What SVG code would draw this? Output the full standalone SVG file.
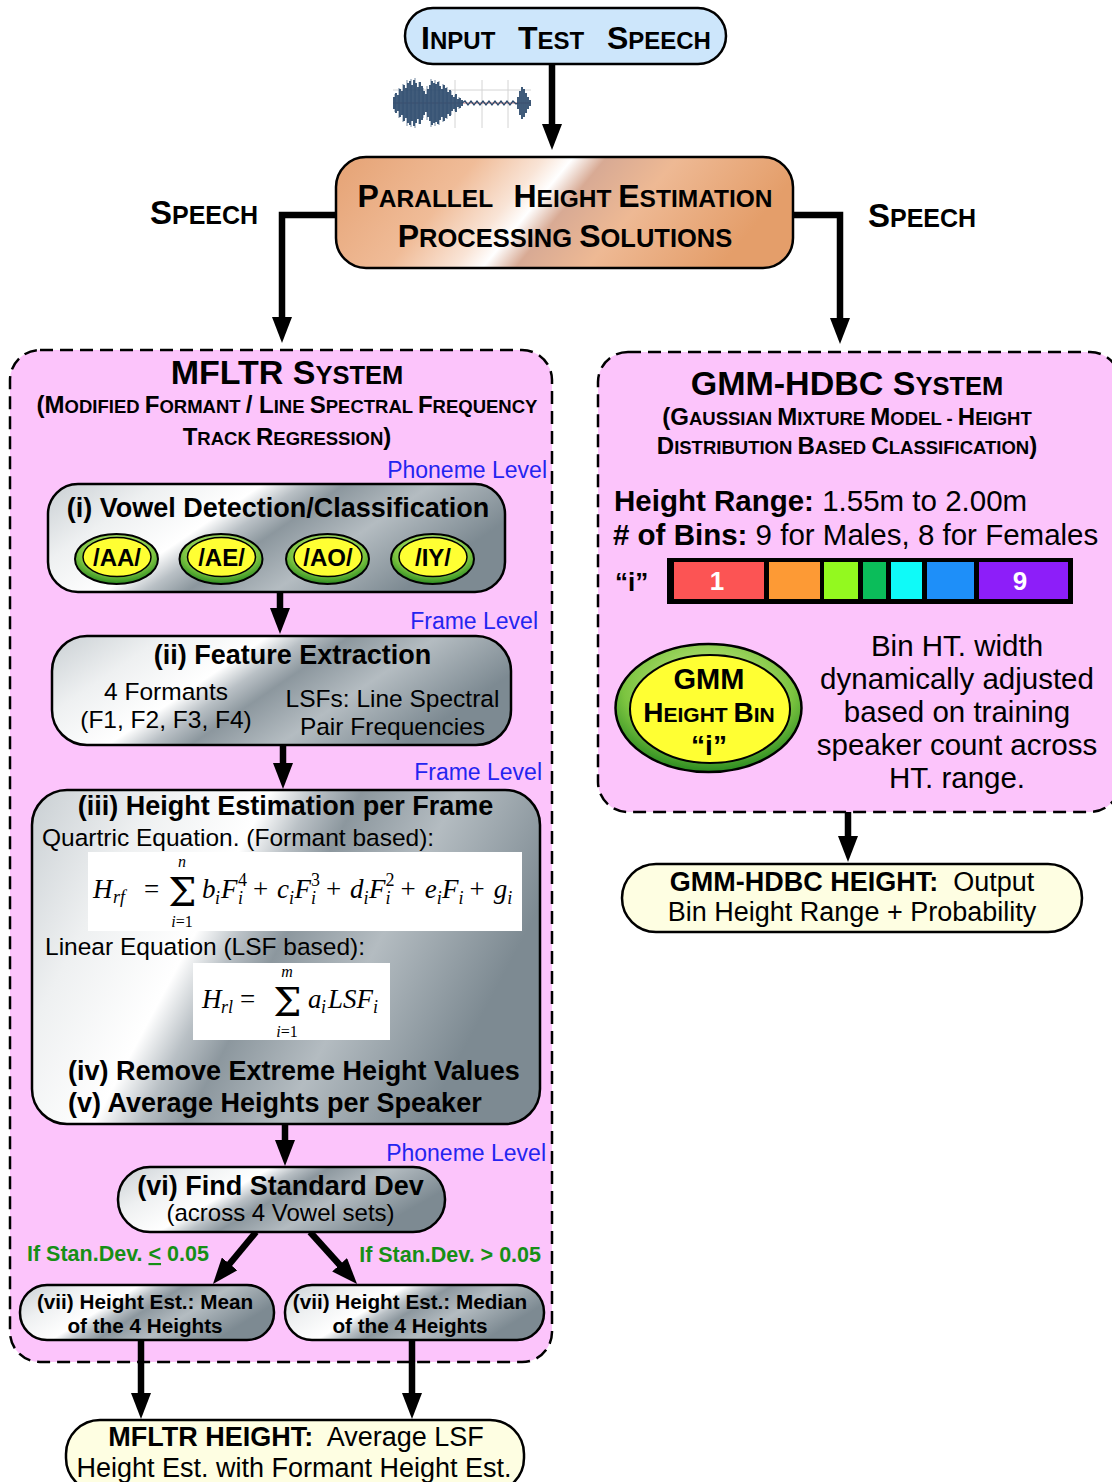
<svg xmlns="http://www.w3.org/2000/svg" width="1112" height="1482" viewBox="0 0 1112 1482">
<style>
.b{font-family:"Liberation Sans",Arial,sans-serif;font-weight:bold;fill:#000}
.r{font-family:"Liberation Sans",Arial,sans-serif;fill:#000}
.m{font-family:"Liberation Serif","Times New Roman",serif;font-style:italic;fill:#000}
.s{font-family:"Liberation Serif","Times New Roman",serif;fill:#000}
.sig{font-family:"DejaVu Serif","Liberation Serif",serif;fill:#000;text-anchor:middle}
.blue{font-family:"Liberation Sans",Arial,sans-serif;fill:#2424f0;font-size:23px}
.green{font-family:"Liberation Sans",Arial,sans-serif;font-weight:bold;fill:#168f16;font-size:21.5px}
.mid{text-anchor:middle}
.end{text-anchor:end}
.cont{fill:#fcc4fb;stroke:#000;stroke-width:2.5;stroke-dasharray:13 7}
.pill{fill:url(#metal);stroke:#000;stroke-width:2.5}
.cream{fill:#fefee2;stroke:#000;stroke-width:2.5}
.conn{fill:none;stroke:#000;stroke-width:6.5;marker-end:url(#ah)}
.vo{fill:url(#ring);stroke:#000;stroke-width:2}
.vi{fill:#ffff33;stroke:#000;stroke-width:1.5}
</style>
<defs>
<linearGradient id="metal" x1="0" y1="0" x2="1" y2="0.35">
<stop offset="0" stop-color="#c9cfd3"/>
<stop offset="0.22" stop-color="#eef0f1"/>
<stop offset="0.42" stop-color="#ffffff"/>
<stop offset="0.5" stop-color="#b9c0c5"/>
<stop offset="0.58" stop-color="#8c979e"/>
<stop offset="0.75" stop-color="#b4bcc1"/>
<stop offset="1" stop-color="#7d8a92"/>
</linearGradient>
<linearGradient id="copper" x1="0" y1="0" x2="1" y2="0.2">
<stop offset="0" stop-color="#e5a274"/>
<stop offset="0.3" stop-color="#f0bc98"/>
<stop offset="0.44" stop-color="#f9e4d6"/>
<stop offset="0.5" stop-color="#ffffff"/>
<stop offset="0.57" stop-color="#d8aa94"/>
<stop offset="0.72" stop-color="#eeb994"/>
<stop offset="1" stop-color="#e49e6a"/>
</linearGradient>
<radialGradient id="ring" cx="0.5" cy="0.35" r="0.65">
<stop offset="0" stop-color="#d0f090"/>
<stop offset="0.7" stop-color="#7cc440"/>
<stop offset="1" stop-color="#2a8a20"/>
</radialGradient>
<marker id="ah" markerUnits="userSpaceOnUse" viewBox="0 0 26 20" markerWidth="26" markerHeight="20" refX="4" refY="10" orient="auto">
<path d="M0,0 L26,10 L0,20 z" fill="#000"/>
</marker>
</defs>
<rect width="1112" height="1482" fill="#fff"/>

<!-- containers -->
<g id="mfltr-system">
<rect class="cont" x="10" y="350" width="542" height="1012" rx="30"/>
<text class="b mid" x="287" y="384" font-size="25.5"><tspan font-size="34">MFLTR S</tspan>YSTEM</text>
<text class="b mid" x="287" y="413" font-size="18.5"><tspan font-size="24">(M</tspan>ODIFIED <tspan font-size="24">F</tspan>ORMANT <tspan font-size="24">/ L</tspan>INE <tspan font-size="24">S</tspan>PECTRAL <tspan font-size="24">F</tspan>REQUENCY</text>
<text class="b mid" x="287" y="445" font-size="18.5"><tspan font-size="24">T</tspan>RACK <tspan font-size="24">R</tspan>EGRESSION<tspan font-size="24">)</tspan></text>
<text class="blue end" x="547" y="478">Phoneme Level</text>
<text class="blue end" x="538" y="629" font-size="24">Frame Level</text>
<text class="blue end" x="542" y="780" font-size="24">Frame Level</text>
<text class="blue end" x="546" y="1161">Phoneme Level</text>
<text class="green" x="27" y="1261">If Stan.Dev. <tspan text-decoration="underline">&lt;</tspan> 0.05</text>
<text class="green end" x="541" y="1262">If Stan.Dev. &gt; 0.05</text>
</g>

<g id="gmm-system">
<rect class="cont" x="598" y="352" width="522" height="460" rx="30"/>
<text class="b mid" x="847" y="395" font-size="25.5"><tspan font-size="34">GMM-HDBC S</tspan>YSTEM</text>
<text class="b mid" x="847" y="425" font-size="18.5"><tspan font-size="24">(G</tspan>AUSSIAN <tspan font-size="24">M</tspan>IXTURE <tspan font-size="24">M</tspan>ODEL - <tspan font-size="24">H</tspan>EIGHT</text>
<text class="b mid" x="847" y="454" font-size="18.5"><tspan font-size="24">D</tspan>ISTRIBUTION <tspan font-size="24">B</tspan>ASED <tspan font-size="24">C</tspan>LASSIFICATION<tspan font-size="24">)</tspan></text>
<text class="r" x="614" y="511" font-size="29.5"><tspan font-weight="bold">Height Range:</tspan> 1.55m to 2.00m</text>
<text class="r" x="613" y="545" font-size="29.5"><tspan font-weight="bold"># of Bins:</tspan> 9 for Males, 8 for Females</text>
<text class="b" x="615" y="591" font-size="26">“i”</text>
<rect x="667" y="558" width="406" height="46" fill="#000"/>
<rect x="674" y="562" width="90" height="37" fill="#fc5454"/>
<rect x="769" y="562" width="51" height="37" fill="#fd9a35"/>
<rect x="824" y="562" width="34" height="37" fill="#93f91f"/>
<rect x="863" y="562" width="23" height="37" fill="#0bbd5a"/>
<rect x="891" y="562" width="31" height="37" fill="#0ffaf8"/>
<rect x="927" y="562" width="47" height="37" fill="#1e8ff9"/>
<rect x="979" y="562" width="89" height="37" fill="#8d1ef9"/>
<text class="b mid" x="717" y="590" font-size="26" style="fill:#fff">1</text>
<text class="b mid" x="1020" y="590" font-size="26" style="fill:#fff">9</text>
<text class="r mid" x="957" y="656" font-size="29.5">Bin HT. width</text>
<text class="r mid" x="957" y="689" font-size="29.5">dynamically adjusted</text>
<text class="r mid" x="957" y="722" font-size="29.5">based on training</text>
<text class="r mid" x="957" y="755" font-size="29.5">speaker count across</text>
<text class="r mid" x="957" y="788" font-size="29.5">HT. range.</text>
</g>

<!-- waveform -->
<g id="waveform">
<path d="M393,90 H531 M455,80 V128 M482,80 V128 M508,80 V128" stroke="#d4d4d4" stroke-width="1" fill="none"/>
<path d="M393,103 H531" stroke="#c07070" stroke-width="1" fill="none"/>
<path fill="none" stroke="#8a9cb0" stroke-width="1.2" d="M395,94 V112 M399,88 V118 M403,84 V122 M407,80 V126 M411,79 V127 M415,78 V128 M419,82 V124 M423,88 V118 M427,86 V120 M431,79 V127 M435,80 V126 M439,81 V125 M443,84 V122 M447,87 V119 M451,91 V115 M455,95 V111 M459,97 V109"/>
<path fill="none" stroke="#2c4a6c" stroke-width="1.8" d="M394,97 V109 M396,93 V113 M398,95 V111 M400,89 V117 M402,91 V115 M404,85 V121 M406,88 V118 M408,83 V123 M410,81 V125 M412,85 V121 M414,80 V126 M416,83 V123 M418,87 V119 M420,82 V124 M422,86 V120 M424,91 V115 M426,94 V112 M428,89 V117 M430,85 V121 M432,81 V125 M434,83 V123 M436,84 V122 M438,82 V124 M440,86 V120 M442,89 V117 M444,85 V121 M446,88 V118 M448,92 V114 M450,90 V116 M452,95 V111 M454,97 V109 M456,94 V112 M458,99 V107 M460,98 V108 M462,100 V106"/>
<path fill="none" stroke="#2c4a6c" stroke-width="1.3" d="M462,103 L465,101 L468,105 L471,101 L474,105 L477,101 L480,105 L483,101 L486,105 L489,101 L492,105 L495,101 L498,105 L501,101 L504,105 L507,101 L510,105 L513,101 L516,104 L518,103"/>
<path fill="none" stroke="#2c4a6c" stroke-width="1.8" d="M518,97 V109 M520,91 V115 M522,87 V119 M524,89 V117 M526,93 V113 M528,97 V109 M530,100 V106"/>
</g>

<!-- connectors -->
<g id="connectors">
<path class="conn" d="M552,64 V128"/>
<path class="conn" d="M336,215 H282 V321" stroke-linejoin="miter"/>
<path class="conn" d="M793,215 H840 V322" stroke-linejoin="miter"/>
<path class="conn" d="M280,592 V612"/>
<path class="conn" d="M283,745 V767"/>
<path class="conn" d="M285,1124 V1144"/>
<path class="conn" d="M256,1232 L227,1267"/>
<path class="conn" d="M310,1232 L342.3,1267.7"/>
<path class="conn" d="M141,1340 V1397"/>
<path class="conn" d="M412,1340 V1397"/>
<path class="conn" d="M848,812 V840"/>
</g>

<text class="b" x="150" y="224" font-size="25"><tspan font-size="33">S</tspan>PEECH</text>
<text class="b" x="868" y="227" font-size="25"><tspan font-size="33">S</tspan>PEECH</text>

<!-- nodes -->
<g id="input-test-speech">
<rect x="405" y="8" width="321" height="56" rx="28" fill="#cde6fb" stroke="#000" stroke-width="2.5"/>
<text class="b mid" x="566" y="49" font-size="24" word-spacing="16"><tspan font-size="32">I</tspan>NPUT <tspan font-size="32">T</tspan>EST <tspan font-size="32">S</tspan>PEECH</text>
</g>

<g id="parallel-height-estimation">
<rect x="336" y="157" width="457" height="111" rx="30" fill="url(#copper)" stroke="#000" stroke-width="2.5"/>
<text class="b mid" x="565" y="207" font-size="24.5"><tspan font-size="32">P</tspan>ARALLEL <tspan font-size="32" dx="14">H</tspan>EIGHT <tspan font-size="32">E</tspan>STIMATION</text>
<text class="b mid" x="565" y="247" font-size="25.5"><tspan font-size="32">P</tspan>ROCESSING <tspan font-size="32">S</tspan>OLUTIONS</text>
</g>

<g id="vowel-detection">
<rect class="pill" x="48" y="484" width="457" height="108" rx="30"/>
<text class="b mid" x="278" y="517" font-size="27">(i) Vowel Detection/Classification</text>
<ellipse class="vo" cx="116.5" cy="559" rx="41.5" ry="25"/>
<ellipse class="vi" cx="117" cy="557" rx="34" ry="19.5"/>
<text class="b mid" x="117" y="566" font-size="24">/AA/</text>
<ellipse class="vo" cx="221" cy="559" rx="41.5" ry="25"/>
<ellipse class="vi" cx="221.5" cy="557" rx="34" ry="19.5"/>
<text class="b mid" x="221.5" y="566" font-size="24">/AE/</text>
<ellipse class="vo" cx="327.5" cy="559" rx="41.5" ry="25"/>
<ellipse class="vi" cx="328" cy="557" rx="34" ry="19.5"/>
<text class="b mid" x="328" y="566" font-size="24">/AO/</text>
<ellipse class="vo" cx="432.5" cy="559" rx="41.5" ry="25"/>
<ellipse class="vi" cx="433" cy="557" rx="34" ry="19.5"/>
<text class="b mid" x="433" y="566" font-size="24">/IY/</text>
</g>

<g id="feature-extraction">
<rect class="pill" x="52" y="636" width="459" height="109" rx="35"/>
<text class="b mid" x="292.5" y="664" font-size="27">(ii) Feature Extraction</text>
<text class="r mid" x="166" y="700" font-size="24.5">4 Formants</text>
<text class="r mid" x="166" y="728" font-size="24.5">(F1, F2, F3, F4)</text>
<text class="r mid" x="392.5" y="707" font-size="24.5">LSFs: Line Spectral</text>
<text class="r mid" x="392.5" y="735" font-size="24.5">Pair Frequencies</text>
</g>

<g id="height-estimation">
<rect class="pill" x="32" y="790" width="508" height="334" rx="35"/>
<text class="b mid" x="285.5" y="815" font-size="27">(iii) Height Estimation per Frame</text>
<text class="r" x="42" y="846" font-size="24.5">Quartric Equation. (Formant based):</text>
<rect x="88" y="852" width="434" height="79" fill="#fff"/>
<text class="m" font-size="27"><tspan x="93" y="898">H</tspan><tspan x="113" y="903" font-size="18">rf</tspan></text>
<text class="s" x="144" y="898" font-size="27">=</text>
<text class="sig" x="182.5" y="906" font-size="40">Σ</text>
<text class="m mid" x="182" y="867" font-size="16">n</text>
<text class="s mid" x="182" y="927" font-size="16"><tspan font-style="italic">i</tspan>=1</text>
<text class="m" font-size="27"><tspan x="202" y="898">b</tspan><tspan x="215" y="904" font-size="18">i</tspan><tspan x="221" y="898">F</tspan><tspan x="238" y="886" font-size="18" font-style="normal">4</tspan><tspan x="238" y="904" font-size="18">i</tspan><tspan x="253" y="898" font-style="normal">+</tspan><tspan x="277" y="898">c</tspan><tspan x="289" y="904" font-size="18">i</tspan><tspan x="294.5" y="898">F</tspan><tspan x="311" y="886" font-size="18" font-style="normal">3</tspan><tspan x="311" y="904" font-size="18">i</tspan><tspan x="326" y="898" font-style="normal">+</tspan><tspan x="350" y="898">d</tspan><tspan x="363.5" y="904" font-size="18">i</tspan><tspan x="369" y="898">F</tspan><tspan x="385.5" y="886" font-size="18" font-style="normal">2</tspan><tspan x="385.5" y="904" font-size="18">i</tspan><tspan x="400.5" y="898" font-style="normal">+</tspan><tspan x="424.7" y="898">e</tspan><tspan x="436.7" y="904" font-size="18">i</tspan><tspan x="442" y="898">F</tspan><tspan x="458.5" y="904" font-size="18">i</tspan><tspan x="469.5" y="898" font-style="normal">+</tspan><tspan x="493.7" y="898">g</tspan><tspan x="507.2" y="904" font-size="18">i</tspan></text>
<text class="r" x="45" y="955" font-size="24.5">Linear Equation (LSF based):</text>
<rect x="193" y="963" width="197" height="77" fill="#fff"/>
<text class="m" font-size="27"><tspan x="202" y="1008">H</tspan><tspan x="221" y="1013" font-size="18">rl</tspan></text>
<text class="s" x="240" y="1008" font-size="27">=</text>
<text class="sig" x="287.5" y="1016" font-size="40">Σ</text>
<text class="m mid" x="287" y="977" font-size="16">m</text>
<text class="s mid" x="287" y="1037" font-size="16"><tspan font-style="italic">i</tspan>=1</text>
<text class="m" font-size="27"><tspan x="308" y="1008">a</tspan><tspan x="321" y="1013" font-size="18">i</tspan><tspan x="328" y="1008">LSF</tspan><tspan x="373" y="1013" font-size="18">i</tspan></text>
<text class="b" x="68" y="1080" font-size="27">(iv) Remove Extreme Height Values</text>
<text class="b" x="68" y="1112" font-size="27">(v) Average Heights per Speaker</text>
</g>

<g id="standard-dev">
<rect class="pill" x="118" y="1167" width="327" height="65" rx="32"/>
<text class="b mid" x="280.5" y="1195" font-size="27">(vi) Find Standard Dev</text>
<text class="r mid" x="280.5" y="1221" font-size="24">(across 4 Vowel sets)</text>
</g>

<g id="height-mean">
<rect class="pill" x="20" y="1285" width="254" height="55" rx="27"/>
<text class="b mid" x="145" y="1309" font-size="20.7">(vii) Height Est.: Mean</text>
<text class="b mid" x="145" y="1333" font-size="20.7">of the 4 Heights</text>
</g>

<g id="height-median">
<rect class="pill" x="285" y="1285" width="259" height="55" rx="27"/>
<text class="b mid" x="410" y="1309" font-size="20.7">(vii) Height Est.: Median</text>
<text class="b mid" x="410" y="1333" font-size="20.7">of the 4 Heights</text>
</g>

<g id="mfltr-height">
<rect class="cream" x="66" y="1420" width="458" height="72" rx="34"/>
<text class="r mid" x="296" y="1446" font-size="27" xml:space="preserve"><tspan font-weight="bold">MFLTR HEIGHT:</tspan>  Average LSF</text>
<text class="r mid" x="294" y="1477" font-size="27">Height Est. with Formant Height Est.</text>
</g>

<g id="gmm-height-bin">
<ellipse cx="708.5" cy="708" rx="93" ry="64" fill="url(#ring)" stroke="#000" stroke-width="2.5"/>
<ellipse cx="710" cy="709" rx="80" ry="54" fill="#ffff33" stroke="#000" stroke-width="2"/>
<text class="b mid" x="709" y="689" font-size="29">GMM</text>
<text class="b mid" x="709" y="722" font-size="21"><tspan font-size="28">H</tspan>EIGHT <tspan font-size="28">B</tspan>IN</text>
<text class="b mid" x="709" y="755" font-size="28">“i”</text>
</g>

<g id="gmm-hdbc-height">
<rect class="cream" x="622" y="864" width="460" height="68" rx="34"/>
<text class="r mid" x="852" y="891" font-size="27" xml:space="preserve"><tspan font-weight="bold">GMM-HDBC HEIGHT:</tspan>  Output</text>
<text class="r mid" x="852" y="921" font-size="27">Bin Height Range + Probability</text>
</g>
</svg>
